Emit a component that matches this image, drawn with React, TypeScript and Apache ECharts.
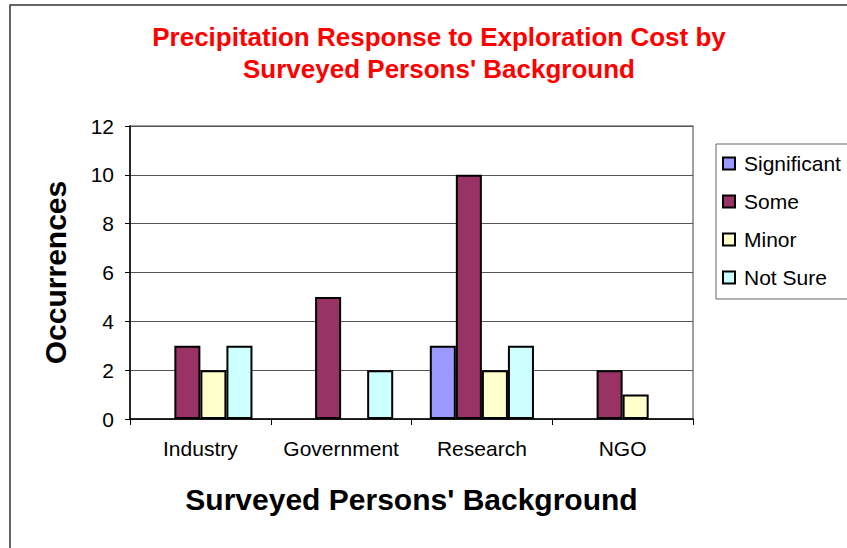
import React, { useEffect, useRef } from "react";
import * as echarts from "echarts";

const categories = ["Industry", "Government", "Research", "NGO"];
const significant = [null, null, 3, null];
const some = [3, 5, 10, 2];
const minor = [2, null, 2, 1];
const notSure = [3, 2, 3, null];
const yTicks = { min: 0, max: 12, interval: 2 };

const FONT = "'Liberation Sans', Arial, sans-serif";

const toData = (arr: (number | null)[]) => arr.map((v) => (v === null ? "-" : v));

export default function App() {
  const ref = useRef<HTMLDivElement>(null);

  useEffect(() => {
    if (!ref.current) return;
    const chart = echarts.init(ref.current, null, { renderer: "svg" });
    const mk = (name: string, data: (number | null)[], color: string) => ({
      name,
      type: "bar",
      data: toData(data),
      barGap: "0%",
      barCategoryGap: "26%",
      itemStyle: { color, borderColor: "#000", borderWidth: 2 },
    });
    chart.setOption({
      animation: false,
      backgroundColor: "#fff",
      textStyle: { fontFamily: FONT },
      title: {
        text: "Precipitation Response to Exploration Cost by\nSurveyed Persons' Background",
        left: 434,
        top: 16,
        textAlign: "center",
        textStyle: {
          color: "#ff0000",
          fontSize: 26,
          fontWeight: "bold",
          lineHeight: 32,
          fontFamily: FONT,
        },
      },
      graphic: [
        {
          type: "rect",
          shape: { x: 10, y: 5, width: 900, height: 600 },
          style: { fill: "none", stroke: "#333", lineWidth: 1.5 },
          silent: true,
        },
      ],
      legend: {
        orient: "vertical",
        left: 716,
        top: 144,
        icon: "rect",
        itemWidth: 12,
        itemHeight: 12,
        itemGap: 17,
        padding: [9, 40, 11, 6],
        borderColor: "#666",
        borderWidth: 1,
        textStyle: { fontSize: 21, color: "#000", fontFamily: FONT, padding: [0, 0, 0, 4] },
        data: ["Significant", "Some", "Minor", "Not Sure"],
      },
      grid: {
        left: 130,
        right: 154,
        top: 126,
        bottom: 129,
        show: true,
        borderColor: "#808080",
        borderWidth: 1.5,
      },
      xAxis: {
        type: "category",
        data: categories,
        name: "Surveyed Persons' Background",
        nameLocation: "middle",
        nameGap: 65,
        nameTextStyle: { fontSize: 30, fontWeight: "bold", color: "#000", fontFamily: FONT },
        axisLine: { lineStyle: { color: "#000", width: 1.5 } },
        axisTick: { show: true, interval: 0, length: 6, lineStyle: { color: "#000" } },
        axisLabel: { interval: 0, fontSize: 21, color: "#000", margin: 19, fontFamily: FONT },
      },
      yAxis: {
        type: "value",
        min: yTicks.min,
        max: yTicks.max,
        interval: yTicks.interval,
        name: "Occurrences",
        nameLocation: "middle",
        nameGap: 60,
        nameTextStyle: { fontSize: 30, fontWeight: "bold", color: "#000", fontFamily: FONT },
        axisLine: { show: true, lineStyle: { color: "#000", width: 1.5 } },
        axisTick: { show: true, length: 5, lineStyle: { color: "#000" } },
        axisLabel: { fontSize: 21, color: "#000", margin: 16, fontFamily: FONT },
        splitLine: { lineStyle: { color: "#555", width: 1.2 } },
      },
      series: [
        mk("Significant", significant, "#9999ff"),
        mk("Some", some, "#993366"),
        mk("Minor", minor, "#ffffcc"),
        mk("Not Sure", notSure, "#ccffff"),
      ],
    });
    return () => chart.dispose();
  }, []);

  return (
    <div
      ref={ref}
      style={{ position: "fixed", left: 0, top: 0, width: 847, height: 548 }}
    />
  );
}
